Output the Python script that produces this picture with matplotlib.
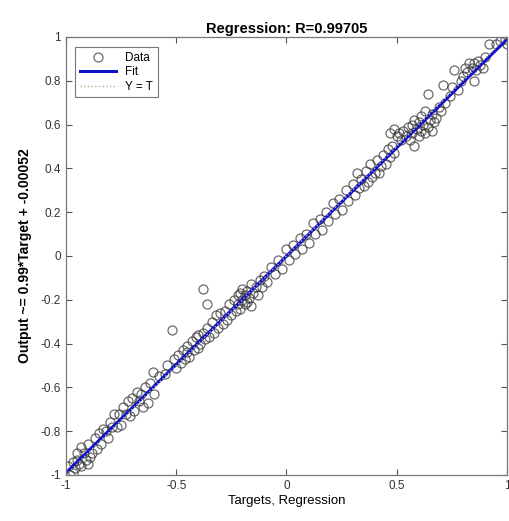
import numpy as np
import matplotlib
matplotlib.use("Agg")
import matplotlib.pyplot as plt

plt.rcParams['font.family'] = ['Liberation Sans', 'DejaVu Sans']

# targets / outputs, grouped by region
targets_a = [-0.99, -0.98, -0.97, -0.97, -0.96, -0.95, -0.95, -0.94, -0.93, -0.93,
             -0.92, -0.91, -0.90, -0.90, -0.89, -0.88, -0.87, -0.86, -0.85, -0.84,
             -0.83, -0.82, -0.81, -0.80, -0.79, -0.78, -0.77, -0.76, -0.75, -0.74,
             -0.73, -0.72, -0.71, -0.70, -0.69, -0.68, -0.67, -0.66, -0.65, -0.64,
             -0.63, -0.62, -0.605, -0.60, -0.58, -0.55, -0.54]
outputs_a = [-0.96, -1.00, -0.99, -0.94, -0.97, -0.90, -0.93, -0.95, -0.87, -0.96,
             -0.90, -0.93, -0.95, -0.86, -0.92, -0.90, -0.83, -0.88, -0.81, -0.86,
             -0.79, -0.80, -0.83, -0.76, -0.78, -0.72, -0.78, -0.72, -0.77, -0.69,
             -0.72, -0.66, -0.73, -0.65, -0.71, -0.62, -0.66, -0.63, -0.69, -0.60,
             -0.67, -0.58, -0.53, -0.63, -0.55, -0.54, -0.50]

targets_b = [-0.52, -0.51, -0.50, -0.49, -0.48, -0.47, -0.46, -0.45, -0.45, -0.44,
             -0.43, -0.42, -0.41, -0.40, -0.40, -0.39, -0.38, -0.38, -0.37, -0.36,
             -0.36, -0.35, -0.34, -0.33, -0.32, -0.31, -0.30, -0.29, -0.28, -0.27,
             -0.26, -0.25, -0.24, -0.23, -0.22, -0.22, -0.21, -0.21, -0.20, -0.20,
             -0.19, -0.19, -0.18, -0.18, -0.17, -0.16, -0.16, -0.15, -0.14, -0.13,
             -0.12, -0.11, -0.10, -0.09]
outputs_b = [-0.34, -0.47, -0.51, -0.45, -0.49, -0.43, -0.47, -0.44, -0.41, -0.46,
             -0.39, -0.43, -0.37, -0.42, -0.36, -0.40, -0.15, -0.35, -0.38, -0.22,
             -0.33, -0.37, -0.30, -0.35, -0.27, -0.33, -0.26, -0.31, -0.25, -0.29,
             -0.22, -0.27, -0.20, -0.25, -0.18, -0.22, -0.17, -0.24, -0.20, -0.15,
             -0.22, -0.18, -0.16, -0.21, -0.19, -0.13, -0.23, -0.17, -0.14, -0.18,
             -0.11, -0.14, -0.09, -0.12]

targets_c = [-0.07, -0.05, -0.04, -0.02, 0.00, 0.01, 0.03, 0.04, 0.06, 0.07,
             0.09, 0.10, 0.12, 0.13, 0.15, 0.16, 0.18, 0.19, 0.21, 0.22,
             0.24, 0.25, 0.27, 0.28, 0.30]
outputs_c = [-0.05, -0.08, -0.02, -0.06, 0.03, -0.02, 0.05, 0.01, 0.08, 0.03,
             0.10, 0.06, 0.15, 0.10, 0.17, 0.12, 0.20, 0.16, 0.24, 0.19,
             0.26, 0.21, 0.30, 0.25, 0.33]

targets_d = [0.31, 0.32, 0.33, 0.34, 0.35, 0.36, 0.37, 0.38, 0.39, 0.40,
             0.41, 0.42, 0.43, 0.44, 0.45, 0.46, 0.47, 0.47, 0.48, 0.49, 0.49]
outputs_d = [0.28, 0.38, 0.31, 0.35, 0.32, 0.39, 0.34, 0.42, 0.36, 0.38,
             0.44, 0.38, 0.41, 0.46, 0.42, 0.49, 0.45, 0.56, 0.50, 0.47, 0.58]

targets_e = [0.50, 0.51, 0.52, 0.53, 0.54, 0.55, 0.56, 0.57, 0.57, 0.58,
             0.58, 0.59, 0.60, 0.60, 0.61, 0.61, 0.62, 0.63, 0.63, 0.64,
             0.64, 0.65, 0.66, 0.66, 0.67, 0.68, 0.69, 0.70]
outputs_e = [0.55, 0.56, 0.53, 0.57, 0.55, 0.59, 0.53, 0.60, 0.56, 0.50,
             0.62, 0.58, 0.55, 0.61, 0.57, 0.64, 0.60, 0.56, 0.66, 0.59,
             0.74, 0.62, 0.57, 0.65, 0.61, 0.63, 0.68, 0.66]

targets_f = [0.71, 0.72, 0.74, 0.75, 0.76, 0.78, 0.79, 0.80, 0.81, 0.82,
             0.83, 0.84, 0.85, 0.85, 0.86, 0.87, 0.88, 0.89, 0.90, 0.92,
             0.95, 0.97, 0.99, 1.00]
outputs_f = [0.78, 0.70, 0.73, 0.77, 0.85, 0.76, 0.80, 0.82, 0.86, 0.84,
             0.88, 0.86, 0.80, 0.88, 0.85, 0.89, 0.87, 0.86, 0.91, 0.97,
             0.97, 0.98, 0.99, 0.97]

targets = np.array(targets_a + targets_b + targets_c + targets_d + targets_e + targets_f)
outputs = np.array(outputs_a + outputs_b + outputs_c + outputs_d + outputs_e + outputs_f)

slope = 0.99
offset = -0.00052
r_value = "0.99705"

fig = plt.figure(figsize=(5.10, 5.21), dpi=100)
ax = fig.add_axes([0.1294, 0.0883, 0.8646, 0.8407])

line_x = np.array([-1, 1])
ax.plot(targets, outputs, 'o', mfc='none', mec='#3a3a3a', mew=0.9, ms=6.5,
        alpha=0.75, label='Data')
ax.plot(line_x, slope * line_x + offset, color='#1010c8', lw=2.2, label='Fit')
ax.plot(line_x, line_x, ':', color='#b0b090', lw=1, label='Y = T')

ax.set_xlim(-1, 1)
ax.set_ylim(-1, 1)
ax.set_xticks([-1, -0.5, 0, 0.5, 1])
ax.set_xticklabels(['-1', '-0.5', '0', '0.5', '1'])
ax.set_yticks(np.round(np.arange(-1, 1.01, 0.2), 1))
ax.set_yticklabels(['-1', '-0.8', '-0.6', '-0.4', '-0.2', '0', '0.2', '0.4', '0.6', '0.8', '1'])
ax.tick_params(direction='in', top=True, right=True, length=4, labelsize=8.5,
               colors='#555555', labelcolor='#333333', width=0.8)
for s in ax.spines.values():
    s.set_color('#777777')
    s.set_linewidth(0.9)

ax.set_title('Regression: R=' + r_value, fontsize=10.5, fontweight='bold', pad=3)
ax.set_xlabel('Targets, Regression', fontsize=9.5, labelpad=2)
ax.set_ylabel('Output ~= 0.99*Target + -0.00052', fontsize=10, fontweight='bold', labelpad=6)

leg = ax.legend(loc='upper left', fontsize=8.5, frameon=True, fancybox=False,
                edgecolor='#555555', handlelength=3.0, borderpad=0.4, labelspacing=0.2,
                bbox_to_anchor=(0.008, 0.99))
leg.get_frame().set_linewidth(0.8)

fig.savefig('out.png', dpi=100)
